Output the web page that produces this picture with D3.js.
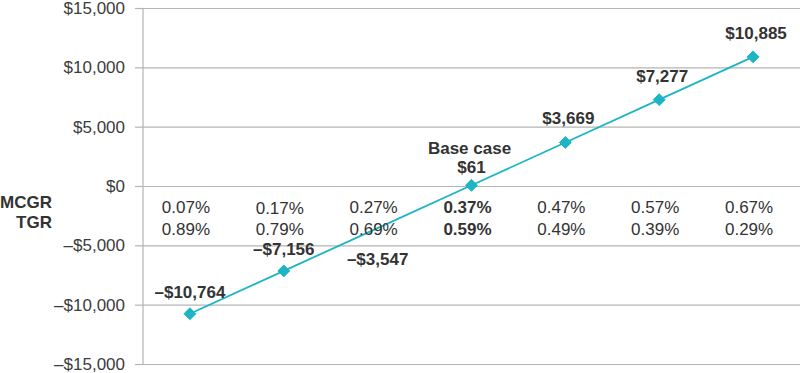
<!DOCTYPE html>
<html>
<head>
    <script src="https://d3js.org/d3.v7.min.js"></script>
    <style>
        body { margin: 0; background: #fff; }
        text { font-family: "Liberation Sans", Arial, sans-serif; fill: #333; }
        .tick text { font-size: 17px; fill: #3c3c3c; }
        .grid line { stroke: #b4b4b4; stroke-width: 1.2px; }
        .pct { font-size: 17px; }
        .val { font-size: 17px; font-weight: bold; }
    </style>
</head>
<body>
    <div id="chart"></div>
    <script>
        // scenario data
        var values = [-10764, -7156, -3547, 61, 3669, 7277, 10885];
        var valueLabels = ["\u2013$10,764", "\u2013$7,156", "\u2013$3,547", "$61", "$3,669", "$7,277", "$10,885"];
        var mcgr = ["0.07%", "0.17%", "0.27%", "0.37%", "0.47%", "0.57%", "0.67%"];
        var tgr = ["0.89%", "0.79%", "0.69%", "0.59%", "0.49%", "0.39%", "0.29%"];
        var showMarker = [true, true, false, true, true, true, true];
        var baseIndex = 3;
        var yTicks = [-15000, -10000, -5000, 0, 5000, 10000, 15000];

        var width = 800, height = 373;
        var margin = { top: 8, right: 0, bottom: 9, left: 143 };

        var svg = d3.select("#chart").append("svg")
            .attr("width", width)
            .attr("height", height);

        var x = d3.scaleBand()
            .domain(d3.range(values.length))
            .range([margin.left, width - margin.right]);

        var y = d3.scaleLinear()
            .domain([-15000, 15000])
            .range([height - margin.bottom, margin.top]);

        function money(v) {
            if (v === 0) return "$0";
            return (v < 0 ? "\u2013" : "") + "$" + d3.format(",")(Math.abs(v));
        }

        // gridlines + y axis labels
        var yAxis = svg.append("g")
            .attr("class", "grid")
            .attr("transform", "translate(" + margin.left + ",0)")
            .call(d3.axisLeft(y).tickValues(yTicks).tickFormat(money)
                .tickSize(-(width - margin.left)).tickPadding(18));
        yAxis.select(".domain").remove();
        // short ticks sticking out left
        yAxis.selectAll(".tick").append("line")
            .attr("x1", -8).attr("x2", 0);

        svg.append("line")
            .attr("x1", margin.left).attr("x2", margin.left)
            .attr("y1", y(15000)).attr("y2", y(-15000))
            .style("stroke", "#b4b4b4").style("stroke-width", 1.2);

        // line + markers
        var cx = function (d, i) { return x(i) + x.bandwidth() / 2; };
        svg.append("path")
            .datum(values)
            .attr("d", d3.line().x(cx).y(function (d) { return y(d); }))
            .style("fill", "none")
            .style("stroke", "#1bb5c4")
            .style("stroke-width", 1.8);

        svg.selectAll(".mark")
            .data(values)
            .enter().filter(function (d, i) { return showMarker[i]; })
            .append("path")
            .attr("class", "mark")
            .attr("transform", function (d) {
                var i = values.indexOf(d);
                return "translate(" + cx(d, i) + "," + y(d) + ")";
            })
            .attr("d", d3.symbol().type(d3.symbolDiamond2).size(90))
            .style("fill", "#1bb5c4")
            .style("stroke", "#1bb5c4")
            .style("stroke-width", 1);

        // value labels
        var labelDy = [-22, -22, 31, -18, -24, -24, -24];
        svg.selectAll(".val")
            .data(values)
            .enter().append("text")
            .attr("class", "val")
            .attr("text-anchor", "middle")
            .attr("x", function (d, i) { return cx(d, i) + (i > 3 ? 3 : 0); })
            .attr("y", function (d, i) { return y(d) + labelDy[i] + 6; })
            .text(function (d, i) { return valueLabels[i]; });

        svg.append("text")
            .attr("class", "val")
            .attr("text-anchor", "middle")
            .attr("x", cx(values[baseIndex], baseIndex) - 2)
            .attr("y", y(values[baseIndex]) - 31)
            .text("Base case");

        // MCGR / TGR rows
        svg.selectAll(".mcgr")
            .data(mcgr)
            .enter().append("text")
            .attr("class", "pct")
            .attr("text-anchor", "middle")
            .attr("x", function (d, i) { return x(i) + x.bandwidth() / 2 - 4; })
            .attr("y", function (d, i) { return (i == 1 ? 214 : 213); })
            .style("font-weight", function (d, i) { return i == baseIndex ? "bold" : null; })
            .text(function (d) { return d; });

        svg.selectAll(".tgr")
            .data(tgr)
            .enter().append("text")
            .attr("class", "pct")
            .attr("text-anchor", "middle")
            .attr("x", function (d, i) { return x(i) + x.bandwidth() / 2 - 4; })
            .attr("y", 235)
            .style("font-weight", function (d, i) { return i == baseIndex ? "bold" : null; })
            .text(function (d) { return d; });

        svg.append("text")
            .attr("class", "val")
            .attr("text-anchor", "end")
            .attr("x", 52).attr("y", 208)
            .text("MCGR");
        svg.append("text")
            .attr("class", "val")
            .attr("text-anchor", "end")
            .attr("x", 52).attr("y", 228)
            .text("TGR");
    </script>
</body>
</html>
